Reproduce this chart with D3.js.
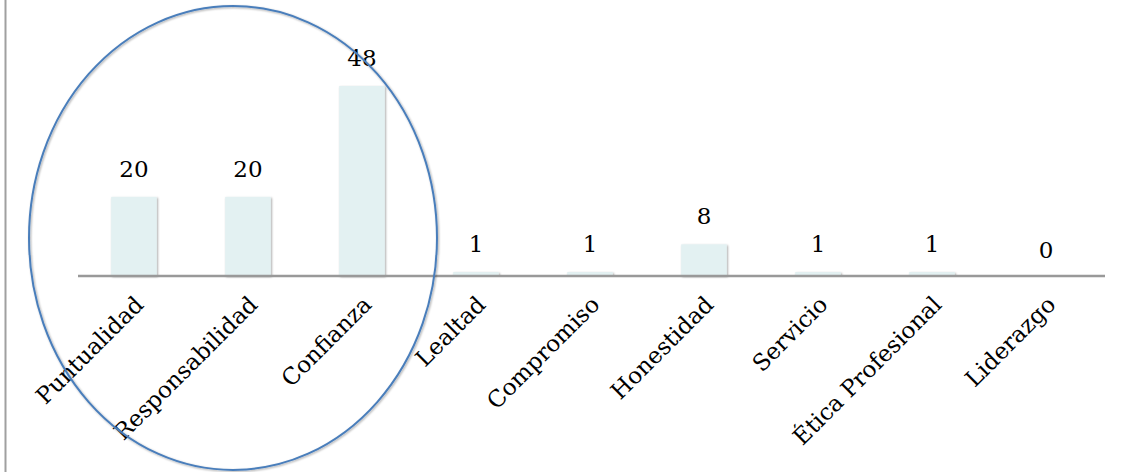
<!DOCTYPE html>
<html>
<head>
<meta charset="utf-8">
<script src="https://cdn.jsdelivr.net/npm/d3@7"></script>
<style>
  body { margin: 0; background: #fff; }
  svg { display: block; }
  .cat { font-family: "DejaVu Serif", serif; font-size: 23px; fill: #000; }
  .val { font-family: "DejaVu Serif", serif; font-size: 23px; fill: #000; }
</style>
</head>
<body>
<div id="chart"></div>
<script>
var categories = ['Puntualidad', 'Responsabilidad', 'Confianza', 'Lealtad', 'Compromiso', 'Honestidad', 'Servicio', 'Ética Profesional', 'Liderazgo'];
var values = [20, 20, 48, 1, 1, 8, 1, 1, 0];
var circled = ['Puntualidad', 'Responsabilidad', 'Confianza'];

var width = 1131, height = 472;
var baseY = 276;

var svg = d3.select('#chart').append('svg')
	.attr('width', width)
	.attr('height', height);

var defs = svg.append('defs');
var shadow = defs.append('filter').attr('id', 'shadow')
	.attr('x', '-20%').attr('y', '-20%').attr('width', '140%').attr('height', '140%');
shadow.append('feDropShadow')
	.attr('dx', 1).attr('dy', 1).attr('stdDeviation', 1.2)
	.attr('flood-color', '#000').attr('flood-opacity', 0.35);

// left frame line
svg.append('line')
	.attr('x1', 5.5).attr('x2', 5.5)
	.attr('y1', 0).attr('y2', height)
	.attr('stroke', '#a0a0a0').attr('stroke-width', 2);

var x = d3.scaleBand().domain(categories).range([77, 1103]).paddingInner(0.6).paddingOuter(0.3);
var y = d3.scaleLinear().domain([0, 48]).range([baseY, 86]);

// bars
svg.selectAll('rect.bar')
	.data(values)
	.enter()
	.append('rect')
	.attr('class', 'bar')
	.attr('x', function(d, i) { return x(categories[i]); })
	.attr('width', x.bandwidth())
	.attr('y', function(d) { return y(d); })
	.attr('height', function(d) { return baseY - y(d); })
	.attr('fill', '#e3f1f2')
	.attr('filter', function(d) { return d > 0 ? 'url(#shadow)' : null; });

// baseline
svg.append('line')
	.attr('x1', 78).attr('x2', 1105)
	.attr('y1', baseY).attr('y2', baseY)
	.attr('stroke', '#999').attr('stroke-width', 2.5);

// value labels
svg.selectAll('text.val')
	.data(values)
	.enter()
	.append('text')
	.attr('class', 'val')
	.attr('text-anchor', 'middle')
	.attr('x', function(d, i) { return x(categories[i]) + x.bandwidth() / 2; })
	.attr('y', function(d) { return y(d) - (d === 0 ? 18 : 20); })
	.text(function(d) { return d; });

// category labels, rotated
svg.selectAll('text.cat')
	.data(categories)
	.enter()
	.append('text')
	.attr('class', 'cat')
	.attr('text-anchor', 'end')
	.attr('transform', function(d) {
		var cx = x(d) + x.bandwidth() / 2 + 11;
		return 'translate(' + cx + ',' + (baseY + 30) + ') rotate(-45)';
	})
	.text(function(d) { return d; });

// ellipse around the first three categories
var x0 = x(circled[0]) + x.bandwidth() / 2;
var x1 = x(circled[circled.length - 1]) + x.bandwidth() / 2;
svg.append('ellipse')
	.attr('cx', (x0 + x1) / 2 - 15)
	.attr('cy', 238)
	.attr('rx', (x1 - x0) / 2 + 90)
	.attr('ry', 232)
	.attr('fill', 'none')
	.attr('stroke', '#4a7ebb')
	.attr('stroke-width', 2)
	.attr('filter', 'url(#shadow)');
</script>
</body>
</html>
